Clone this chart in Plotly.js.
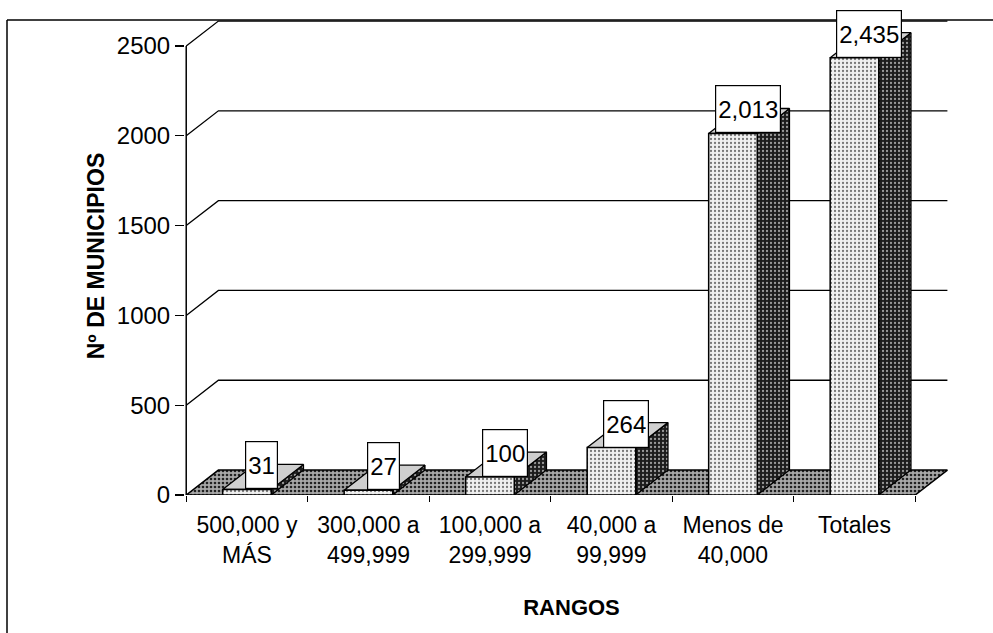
<!DOCTYPE html>
<html>
<head>
<meta charset="utf-8">
<script src="https://cdn.plot.ly/plotly-3.0.1.min.js"></script>
<style>html,body{margin:0;padding:0;background:#fff;}#chart{width:993px;height:633px;}</style>
</head>
<body>
<div id="chart"></div>
<script>
// ---- data ----
const categories = ['500,000 y<br>MÁS', '300,000 a<br>499,999', '100,000 a<br>299,999', '40,000 a<br>99,999', 'Menos de<br>40,000', 'Totales'];
const values = [31, 27, 100, 264, 2013, 2435];
const valueLabels = ['31', '27', '100', '264', '2,013', '2,435'];
const yTickVals = [0, 500, 1000, 1500, 2000, 2500];
const chartTitle = '1990';
const xTitle = 'RANGOS';
const yTitle = 'Nº DE MUNICIPIOS';

// ---- 3D look (geometry, not data) ----
const HALF = 0.2;      // half width of bar front face (category units)
const DX = 0.265;      // depth offset in x (category units)
const DY = 139;        // depth offset in y (value units)
const n = categories.length;
const idx = categories.map((_, i) => i);
const xLeft = -0.5, xRight = n - 0.5;
const FONT = 'Liberation Sans, Arial, sans-serif';

const traces = [];

// back-wall gridlines and the slanted connectors from front ticks
const gx = [], gy = [];
yTickVals.filter(v => v > 0).forEach(v => {
  gx.push(xLeft, xLeft + DX, xRight + DX, null);
  gy.push(v, v + DY, v + DY, null);
});
traces.push({type: 'scatter', mode: 'lines', x: gx, y: gy, line: {color: '#000', width: 1.3}, hoverinfo: 'skip', showlegend: false});

// floor
traces.push({type: 'scatter', mode: 'lines', fill: 'toself',
  x: [xLeft, xRight, xRight + DX, xLeft + DX, xLeft],
  y: [0, 0, DY, DY, 0],
  fillcolor: '#999',
  fillpattern: {shape: '.', bgcolor: '#a8a8a8', fgcolor: '#222', size: 4, solidity: 0.35},
  line: {color: '#000', width: 1.5}, hoverinfo: 'skip', showlegend: false});

// bars: side faces, top faces, front faces
const sx = [], sy = [], tx = [], ty = [], fx = [], fy = [];
idx.forEach(i => {
  const v = values[i];
  sx.push(i + HALF, i + HALF + DX, i + HALF + DX, i + HALF, i + HALF, null);
  sy.push(0, DY, v + DY, v, 0, null);
  tx.push(i - HALF, i + HALF, i + HALF + DX, i - HALF + DX, i - HALF, null);
  ty.push(v, v, v + DY, v + DY, v, null);
  fx.push(i - HALF, i + HALF, i + HALF, i - HALF, i - HALF, null);
  fy.push(0, 0, v, v, 0, null);
});
traces.push({type: 'scatter', mode: 'lines', fill: 'toself', x: sx, y: sy,
  fillcolor: '#222',
  fillpattern: {shape: '.', bgcolor: '#1c1c1c', fgcolor: '#9a9a9a', size: 4, solidity: 0.25},
  line: {color: '#000', width: 1.3}, hoverinfo: 'skip', showlegend: false});
traces.push({type: 'scatter', mode: 'lines', fill: 'toself', x: tx, y: ty,
  fillcolor: '#cfcfcf',
  line: {color: '#000', width: 1.3}, hoverinfo: 'skip', showlegend: false});
traces.push({type: 'scatter', mode: 'lines', fill: 'toself', x: fx, y: fy,
  fillcolor: '#e6e6e6',
  fillpattern: {shape: '.', bgcolor: '#f0f0f0', fgcolor: '#777', size: 4, solidity: 0.25},
  line: {color: '#000', width: 1.5}, hoverinfo: 'skip', showlegend: false});

// front value axis line
traces.push({type: 'scatter', mode: 'lines', x: [xLeft, xLeft], y: [0, yTickVals[yTickVals.length - 1]],
  line: {color: '#000', width: 1.5}, hoverinfo: 'skip', showlegend: false});

// value labels
const annotations = idx.map(i => ({
  x: i + 0.12, y: values[i], xref: 'x', yref: 'y',
  text: valueLabels[i], showarrow: false, yanchor: 'bottom', xanchor: 'center',
  font: {family: FONT, size: 24, color: '#000'},
  bgcolor: '#fff', bordercolor: '#000', borderwidth: 1.2, borderpad: 2, height: 42
}));
annotations.push({xref: 'paper', yref: 'paper', x: 0.395, y: 1.0, yshift: 9, yanchor: 'bottom',
  text: '<b>' + chartTitle + '</b>', showarrow: false, font: {family: FONT, size: 36, color: '#000'}});

const L = 185, R = 35, T = 17, B = 138;
const W = 993 - L - R, H = 633 - T - B;
const pxPerCat = 121.5;
const xMin = -0.51;
const xMax = xMin + W / pxPerCat;
const yMax = H / 0.1796;

const py = p => (H + T - p) / H; // pixel y -> paper y (border only)
const px = p => (p - L) / W;

const layout = {
  width: 993, height: 633,
  margin: {l: L, r: R, t: T, b: B},
  paper_bgcolor: '#fff', plot_bgcolor: 'rgba(0,0,0,0)',
  font: {family: FONT, color: '#000'},
  showlegend: false,
  xaxis: {
    range: [xMin, xMax], tickmode: 'array', tickvals: idx, ticktext: categories,
    ticks: '', showgrid: false, zeroline: false, showline: false,
    tickfont: {family: FONT, size: 23, color: '#000'},
    ticklabelstandoff: 14,
    minor: {tickmode: 'array', tickvals: idx.map(i => i - 0.5).concat([xRight]), ticks: 'outside', ticklen: 6, tickcolor: '#000', tickwidth: 1.2, showgrid: false},
    title: {text: '<b>' + xTitle + '</b>', font: {family: FONT, size: 22, color: '#000'}, standoff: 32}
  },
  yaxis: {
    range: [0, yMax], tickmode: 'array', tickvals: yTickVals, ticktext: yTickVals.map(String),
    ticks: 'outside', ticklen: 9, tickcolor: '#000', tickwidth: 1.2,
    showgrid: false, zeroline: false, showline: false,
    tickfont: {family: FONT, size: 24, color: '#000'},
    title: {text: '<b>' + yTitle + '</b>', font: {family: FONT, size: 23, color: '#000'}, standoff: 5}
  },
  shapes: [
    {type: 'line', xref: 'paper', yref: 'paper', x0: px(7), x1: px(993), y0: py(20), y1: py(20), line: {color: '#000', width: 1.5}},
    {type: 'line', xref: 'paper', yref: 'paper', x0: px(7), x1: px(7), y0: py(20), y1: py(640), line: {color: '#000', width: 1.5}}
  ],
  annotations: annotations
};

Plotly.newPlot('chart', traces, layout, {displayModeBar: false, staticPlot: true});
</script>
</body>
</html>
